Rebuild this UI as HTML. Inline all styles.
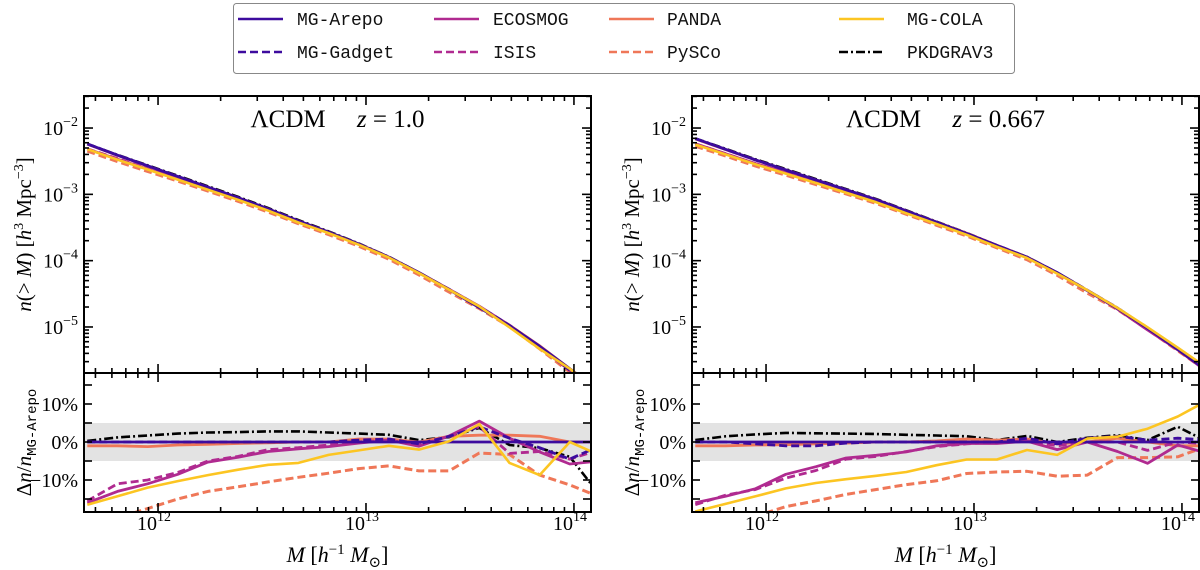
<!DOCTYPE html>
<html><head><meta charset="utf-8"><title>HMF comparison</title>
<style>
html,body{margin:0;padding:0;background:#fff;}
svg{display:block;font-family:"Liberation Serif","DejaVu Serif",serif;}
.mono{font-family:"Liberation Mono","DejaVu Sans Mono",monospace;}
</style></head>
<body>
<svg id="chart" width="1200" height="570" viewBox="0 0 1200 570" xmlns="http://www.w3.org/2000/svg">
  <g id="legend"></g>
  <g id="panels"></g>
</svg>
<script>
// ---- data ----
const logMass = [11.66,11.805,11.95,12.095,12.24,12.385,12.53,12.675,12.82,12.965,13.11,13.255,13.40,13.545,13.69,13.835,13.98,14.125];
const refLogN_z1 = [-2.24,-2.41,-2.57,-2.73,-2.89,-3.05,-3.22,-3.40,-3.57,-3.75,-3.95,-4.18,-4.44,-4.71,-4.98,-5.29,-5.63,-5.97];
const refLogN_z0667 = [-2.16,-2.32,-2.48,-2.63,-2.78,-2.93,-3.08,-3.25,-3.42,-3.59,-3.77,-3.95,-4.18,-4.45,-4.72,-5.02,-5.34,-5.67];
// percent deviation from MG-Arepo, z = 1.0
const arepo_z1   = [0,0,0,0,0,0,0,0,0,0,0,0,0,0,0,0,0,0];
const gadget_z1  = [0,0,0,0,0,0,0,0,0,0.5,0.8,-0.5,1.5,4,1,-1.5,-4.5,-1];
const ecosmog_z1 = [-16,-13,-11,-8.5,-5.3,-4,-2.5,-1.8,-1.2,-0.3,0.5,-1.1,1.6,5.5,1,-2.6,-5.8,-5];
const isis_z1    = [-15.5,-11,-10,-8,-5,-3.8,-2,-1.5,-0.8,0,0.5,-0.8,1.5,4,-3,-2.5,-4.5,-2];
const panda_z1   = [-1,-1,-1.2,-0.8,-0.6,-0.4,-0.2,0,0,0.8,0.8,0,1.5,1.8,1.8,1.5,0,0];
const pysco_z1   = [-22,-20,-17.5,-15,-13,-11.8,-10.5,-9.3,-8.2,-7,-6.3,-7.6,-7.6,-2.9,-3.3,-8.7,-11.3,-14.5];
const cola_z1    = [-16.5,-14.3,-12,-10.3,-8.7,-7.3,-6,-5.5,-3.4,-2.2,-1,-2,0.2,4.7,-5.5,-8.7,0,-3.5];
const pkd_z1     = [0.3,1.2,1.7,2.2,2.5,2.6,2.8,2.8,2.5,2.2,1.9,0.5,1.3,3.7,-0.8,-1.6,-3.9,-14];
// percent deviation from MG-Arepo, z = 0.667
const arepo_z0667   = [0,0,0,0,0,0,0,0,0,0,0,0,0,0,0,0,0,0];
const gadget_z0667  = [0,0,-0.5,-1,-1,-0.3,0,0,0,0,0,1,-0.5,1,1.5,0.5,1,0.5];
const ecosmog_z0667 = [-16,-14.3,-12.3,-8.5,-6.5,-4.2,-3.5,-2.6,-1,-0.4,-0.4,0.2,-2,0,-2.5,-5.6,-0.8,-3];
const isis_z0667    = [-16.5,-14,-12.5,-9.5,-7.5,-4.5,-3.8,-2.5,-1.2,-0.5,0,0.3,-1,0,0,-2.2,0,-0.5];
const panda_z0667   = [-1,-1,-0.8,-0.7,-0.5,-0.3,0,0,0.3,0.8,0.5,0.8,-0.5,0,1,0,-1,-1];
const pysco_z0667   = [-23,-21,-19.5,-17,-15.5,-13.8,-12.5,-11.2,-10.2,-8.3,-7.9,-7.7,-9,-8.7,-4.1,-4.1,-3.9,-1];
const cola_z0667    = [-18.3,-16.3,-14.3,-12.2,-10.8,-9.8,-8.9,-7.9,-6.1,-4.6,-4.6,-2.1,-3.4,0.9,1.4,3.5,6.7,11];
const pkd_z0667     = [0.5,1.5,2.0,2.4,2.3,2.2,2.1,1.9,1.7,1.5,0.5,1.6,0,1.1,1.8,0.5,4.0,0];
const xTickExps = [12,13,14];
const yTopTickExps = [-2,-3,-4,-5];
const yBotTickVals = [-10,0,10];
const yBotTickLabels = ["\u221210%","0%","10%"];
const redshiftLabels = ["1.0","0.667"];

const NS="http://www.w3.org/2000/svg";
function mk(tag,attrs,parent){const e=document.createElementNS(NS,tag);for(const k in attrs)e.setAttribute(k,attrs[k]);if(parent)parent.appendChild(e);return e;}

const styles = {
  arepo:{c:"#3d0b9e",d:null,w:2.8,name:"MG-Arepo"},
  gadget:{c:"#3d0b9e",d:"8,4",w:2.8,name:"MG-Gadget"},
  ecosmog:{c:"#b02a90",d:null,w:2.8,name:"ECOSMOG"},
  isis:{c:"#b02a90",d:"8,4",w:2.8,name:"ISIS"},
  panda:{c:"#ef7758",d:null,w:2.8,name:"PANDA"},
  pysco:{c:"#ef7758",d:"8,4",w:3,name:"PySCo"},
  cola:{c:"#fcc522",d:null,w:2.6,name:"MG-COLA"},
  pkd:{c:"#000000",d:"9,3,2,3",w:2.6,name:"PKDGRAV3"}
};
const order=["pkd","pysco","panda","isis","ecosmog","gadget","arepo","cola"];

// ---- legend ----
const lg=document.getElementById('legend');
const box=mk('rect',{x:233.5,y:3.5,width:781,height:70,rx:3,fill:"#fff",stroke:"#888","stroke-width":1},lg);


const legCols=[[238,297],[434,493],[609,667],[839,907]];
const legItems=[["arepo","gadget"],["ecosmog","isis"],["panda","pysco"],["cola","pkd"]];
legItems.forEach((col,ci)=>{col.forEach((key,ri)=>{
  const s=styles[key]; const y=ri?52:19;
  const g=mk('g',{},lg);
  
  
  const l=mk('line',{x1:legCols[ci][0],x2:legCols[ci][0]+45,y1:y,y2:y,stroke:s.c,"stroke-width":2.6},g);
  if(s.d)l.setAttribute('stroke-dasharray',s.d);
  const t=mk('text',{x:legCols[ci][1],y:y+6,"font-size":18,class:"mono",fill:"#111"},g);
  t.textContent=s.name;
});});

// ---- panels ----
const pg=document.getElementById('panels');
const panelDefs=[
  {x0:84,x1:591,ref:refLogN_z1,data:{arepo:arepo_z1,gadget:gadget_z1,ecosmog:ecosmog_z1,isis:isis_z1,panda:panda_z1,pysco:pysco_z1,cola:cola_z1,pkd:pkd_z1},z:redshiftLabels[0]},
  {x0:692,x1:1199,ref:refLogN_z0667,data:{arepo:arepo_z0667,gadget:gadget_z0667,ecosmog:ecosmog_z0667,isis:isis_z0667,panda:panda_z0667,pysco:pysco_z0667,cola:cola_z0667,pkd:pkd_z0667},z:redshiftLabels[1]}
];
const LMIN=11.644,LMAX=14.082;
const TY0=96,TY1=373,NTOP=-1.517,NBOT=-5.694;
const BY0=373,BY1=512,P0Y=442,PPX=3.8;

panelDefs.forEach((P,pi)=>{
  const g=mk('g',{},pg);
  
  
  const xs=l=>P.x0+(l-LMIN)/(LMAX-LMIN)*(P.x1-P.x0);
  const yt=n=>TY0+(NTOP-n)/(NTOP-NBOT)*(TY1-TY0);
  const yb=p=>P0Y-p*PPX;
  const cid='clipT'+pi, cid2='clipB'+pi;
  const defs=mk('defs',{},g);
  const c1=mk('clipPath',{id:cid},defs); mk('rect',{x:P.x0,y:TY0,width:P.x1-P.x0,height:TY1-TY0},c1);
  const c2=mk('clipPath',{id:cid2},defs); mk('rect',{x:P.x0,y:BY0,width:P.x1-P.x0,height:BY1-BY0},c2);
  const band=mk('rect',{x:P.x0,y:yb(5),width:P.x1-P.x0,height:yb(-5)-yb(5),fill:"#e3e3e3"},g);
  
  
  const gt=mk('g',{"clip-path":"url(#"+cid+")"},g);
  const gb=mk('g',{"clip-path":"url(#"+cid2+")"},g);
  order.forEach(key=>{
    const s=styles[key], r=P.data[key];
    const top=logMass.map((m,i)=>xs(m).toFixed(1)+","+yt(P.ref[i]+Math.log10(1+r[i]/100)).toFixed(1)).join(" ");
    const bot=logMass.map((m,i)=>xs(m).toFixed(1)+","+yb(r[i]).toFixed(1)).join(" ");
    const a=mk('polyline',{points:top,fill:"none",stroke:s.c,"stroke-width":s.w,"stroke-linejoin":"round"},gt);
    
    
    const b=mk('polyline',{points:bot,fill:"none",stroke:s.c,"stroke-width":s.w,"stroke-linejoin":"round"},gb);
    
    
    if(s.d){a.setAttribute('stroke-dasharray',s.d);b.setAttribute('stroke-dasharray',s.d);}
  });
  const tk=mk('g',{stroke:"#000","stroke-width":1.6},g);
  
  
  for(let d=11;d<=14;d++)for(let m=1;m<=9;m++){
    const l=d+Math.log10(m); if(l<LMIN||l>LMAX)continue;
    const x=xs(l), len=m===1?9:5;
    [[TY0,1],[TY1,-1],[BY0,1],[BY1,-1]].forEach(([y,s])=>mk('line',{x1:x,x2:x,y1:y,y2:y+s*len},tk));
  }
  for(let d=-6;d<=-1;d++)for(let m=1;m<=9;m++){
    const n=d+Math.log10(m); if(n<NBOT||n>NTOP)continue;
    const y=yt(n), len=m===1?9:5;
    mk('line',{x1:P.x0,x2:P.x0+len,y1:y,y2:y},tk); mk('line',{x1:P.x1,x2:P.x1-len,y1:y,y2:y},tk);
  }
  for(let p=-15;p<=15;p+=5){const y=yb(p);
    mk('line',{x1:P.x0,x2:P.x0+8,y1:y,y2:y},tk); mk('line',{x1:P.x1,x2:P.x1-8,y1:y,y2:y},tk);}
  const f1=mk('rect',{x:P.x0,y:TY0,width:P.x1-P.x0,height:TY1-TY0,fill:"none",stroke:"#000","stroke-width":2},g);
   
  const f2=mk('rect',{x:P.x0,y:BY0,width:P.x1-P.x0,height:BY1-BY0,fill:"none",stroke:"#000","stroke-width":2},g);
   
  xTickExps.forEach(e=>{
    const t=mk('text',{x:xs(e)-4,y:530,"font-size":20,"text-anchor":"middle"},g);
     
    t.appendChild(document.createTextNode("10"));
    const sp=mk('tspan',{dy:-9,"font-size":14},t); sp.textContent=String(e);
  });
  yTopTickExps.forEach(e=>{
    const t=mk('text',{x:P.x0-6,y:yt(e)+7,"font-size":20,"text-anchor":"end"},g);
     
    t.appendChild(document.createTextNode("10"));
    const sp=mk('tspan',{dy:-9,"font-size":14},t); sp.textContent="\u2212"+String(-e);
  });
  yBotTickVals.forEach((v,i)=>{
    const t=mk('text',{x:P.x0-6,y:yb(v)+7,"font-size":20,"text-anchor":"end"},g);
     
    t.textContent=yBotTickLabels[i];
  });
  const cx=(P.x0+P.x1)/2;
  const tt=mk('text',{x:cx,y:127,"font-size":25,"text-anchor":"middle"},g);
   
  tt.appendChild(document.createTextNode("\u039BCDM\u2003 "));
  const zi=mk('tspan',{"font-style":"italic"},tt); zi.textContent="z";
  tt.appendChild(document.createTextNode(" = "+P.z));
  const xl=mk('text',{x:cx,y:562,"font-size":22,"text-anchor":"middle"},g);
   
  xl.innerHTML='<tspan font-style="italic">M</tspan> [<tspan font-style="italic">h</tspan><tspan dy="-8" font-size="15">\u22121</tspan><tspan dy="8"> </tspan><tspan font-style="italic">M</tspan><tspan dy="5" font-size="15">\u2299</tspan><tspan dy="-5">]</tspan>';
  const lx=P.x0-53;
  const yl=mk('text',{x:0,y:0,"font-size":21,"text-anchor":"middle",transform:`translate(${lx},${(TY0+TY1)/2}) rotate(-90)`},g);
   
  yl.innerHTML='<tspan font-style="italic">n</tspan>(&gt; <tspan font-style="italic">M</tspan>) [<tspan font-style="italic">h</tspan><tspan dy="-8" font-size="14">3</tspan><tspan dy="8"> Mpc</tspan><tspan dy="-8" font-size="14">\u22123</tspan><tspan dy="8">]</tspan>';
  const yl2=mk('text',{x:0,y:0,"font-size":21,"text-anchor":"middle",transform:`translate(${lx},${(BY0+BY1)/2}) rotate(-90)`},g);
   
  yl2.innerHTML='\u0394<tspan font-style="italic">n</tspan>/<tspan font-style="italic">n</tspan><tspan dy="5" font-size="14" font-family="Liberation Mono, monospace">MG-Arepo</tspan>';
});
</script>
</body></html>
